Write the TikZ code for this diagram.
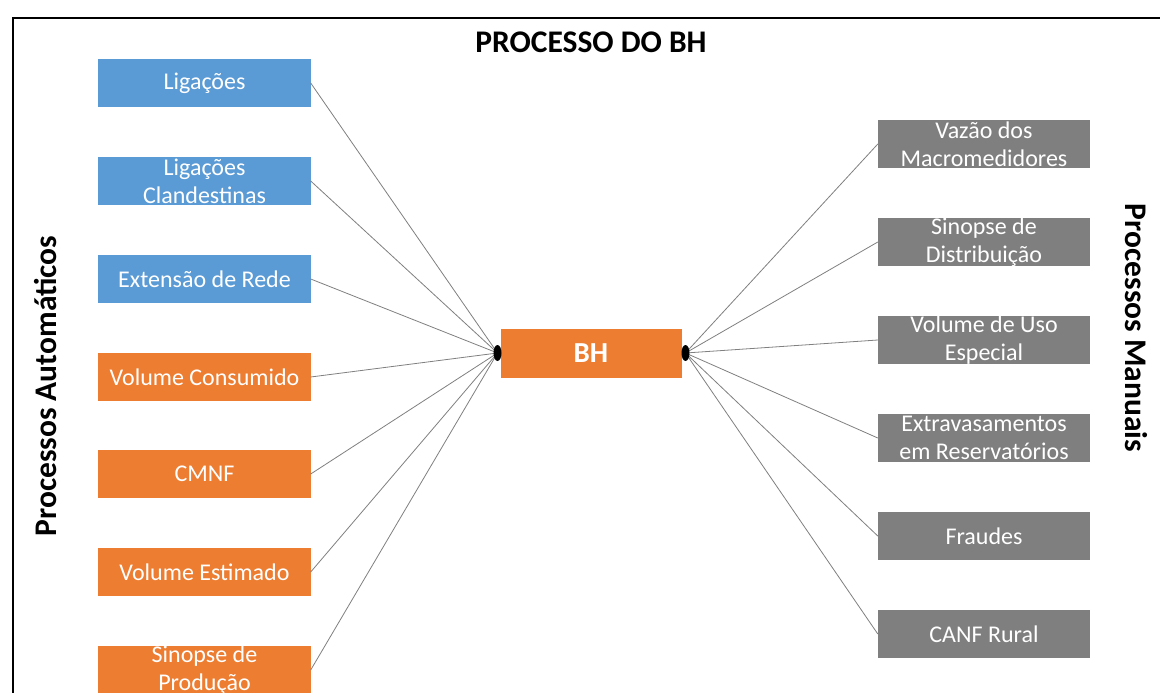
\documentclass[tikz,border=0pt]{standalone}
\usepackage{fontspec}
\setmainfont{Carlito}
\usetikzlibrary{shapes.geometric}

\definecolor{autoblue}{HTML}{5B9BD5}
\definecolor{autoorange}{HTML}{ED7D31}
\definecolor{mangray}{HTML}{7F7F7F}
\definecolor{linkgray}{HTML}{808080}

\tikzset{
  procbox/.style={rectangle, minimum width=212bp, minimum height=48bp, inner sep=0pt,
    text=white, align=center, font=\fontsize{24bp}{28bp}\selectfont},
  bluebox/.style={procbox, fill=autoblue},
  orangebox/.style={procbox, fill=autoorange},
  graybox/.style={procbox, fill=mangray},
  hubbox/.style={rectangle, fill=autoorange, minimum width=181bp, minimum height=49bp,
    inner sep=0pt, text=white, font=\bfseries\fontsize{29bp}{34bp}\selectfont},
  hubdot/.style={ellipse, fill=black, minimum width=8bp, minimum height=16bp, inner sep=0pt},
  link/.style={draw=linkgray, line width=0.8bp},
  heading/.style={font=\bfseries\fontsize{31.5bp}{36bp}\selectfont, inner sep=0pt},
  frameline/.style={line width=2.6bp, black}
}

\begin{document}
\begin{tikzpicture}[x=1bp, y=-1bp]
  \useasboundingbox (0,0) rectangle (1160,693);
  \clip (0,0) rectangle (1160,693);
  \fill[white] (0,0) rectangle (1160,693);

  % outer frame (continues past the right and bottom edges)
  \draw[frameline] (13,720) -- (13,18) -- (1200,18);

  % headings
  \node[heading] (title) at (591,42) {PROCESSO DO BH};
  \node[heading, rotate=90] (autolabel) at (46,386) {Processos Automáticos};
  \node[heading, rotate=-90] (manlabel) at (1136,328) {Processos Manuais};

  % automatic processes
  \node[bluebox] (a1) at (204.5,83) {Ligações};
  \node[bluebox] (a2) at (204.5,181) {Ligações\\Clandestinas};
  \node[bluebox] (a3) at (204.5,279) {Extensão de Rede};
  \node[orangebox] (a4) at (204.5,377) {Volume Consumido};
  \node[orangebox] (a5) at (204.5,474) {CMNF};
  \node[orangebox] (a6) at (204.5,572) {Volume Estimado};
  \node[orangebox] (a7) at (204.5,670) {Sinopse de\\Produção};

  % manual processes
  \node[graybox] (m1) at (984,144) {Vazão dos\\Macromedidores};
  \node[graybox] (m2) at (984,242) {Sinopse de\\Distribuição};
  \node[graybox] (m3) at (984,340) {Volume de Uso\\Especial};
  \node[graybox] (m4) at (984,438) {Extravasamentos\\em Reservatórios};
  \node[graybox] (m5) at (984,536) {Fraudes};
  \node[graybox] (m6) at (984,634) {CANF Rural};

  % central node and its two junction points
  \node[hubbox] (bh) at (591,353) {BH};
  \coordinate (jl) at (497.5,353);
  \coordinate (jr) at (685.5,353);

  % connectors
  \foreach \n in {a1,a2,a3,a4,a5,a6,a7}
    \draw[link] (\n.east) -- (jl);
  \foreach \n in {m1,m2,m3,m4,m5,m6}
    \draw[link] (jr) -- (\n.west);

  \node[hubdot] (dl) at (jl) {};
  \node[hubdot] (dr) at (jr) {};
\end{tikzpicture}
\end{document}
